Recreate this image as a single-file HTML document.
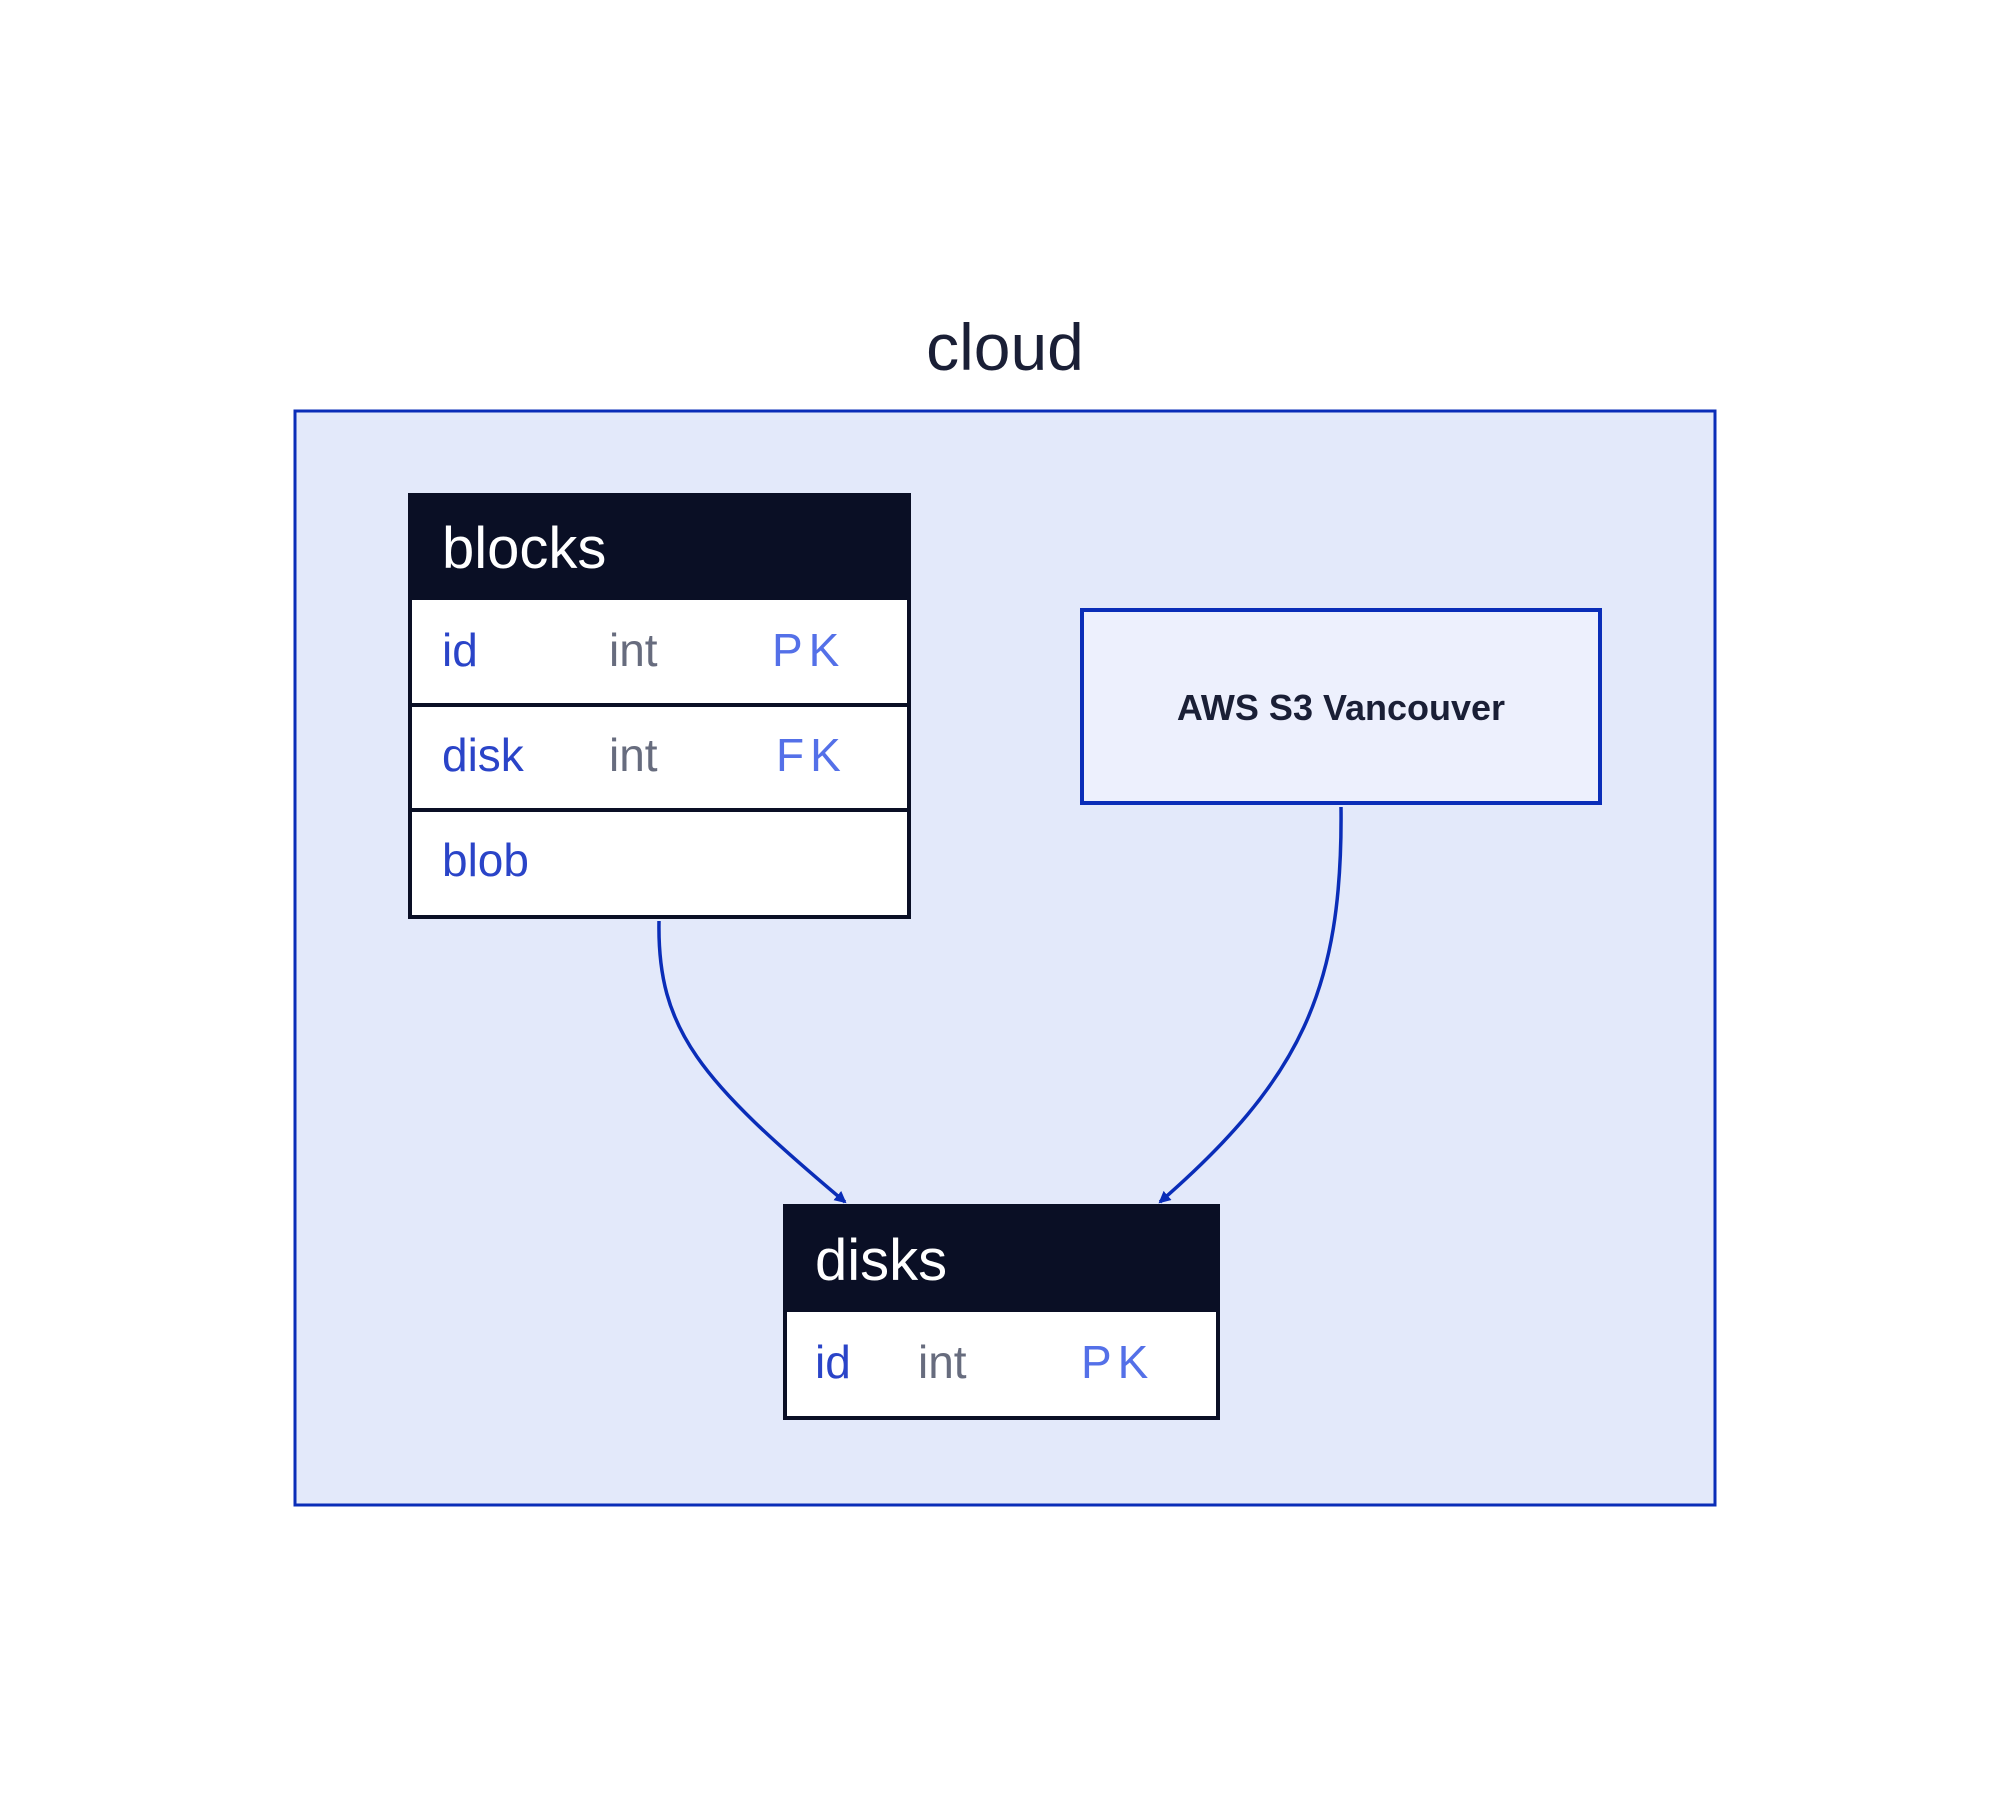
<!DOCTYPE html>
<html><head><meta charset="utf-8"><style>
body{margin:0;background:#fff;}
svg text{font-family:"Liberation Sans",sans-serif;}
</style></head><body>
<svg width="2000" height="1791" viewBox="0 0 2000 1791" xmlns="http://www.w3.org/2000/svg">
<defs>
<marker id="ah" markerWidth="12" markerHeight="12" refX="10" refY="6" orient="auto" markerUnits="userSpaceOnUse" viewBox="0 0 12 12">
<path d="M0,0 L12,6 L0,12 z" fill="#0A2DB8"/>
</marker>
</defs>
<rect width="2000" height="1791" fill="#fff"/>
<text x="1005" y="370" font-size="66" fill="#1a1f36" text-anchor="middle">cloud</text>
<rect x="295" y="411" width="1420" height="1094" fill="#E3E9FA" stroke="#0A2DB8" stroke-width="3"/>
<!-- blocks -->
<rect x="410" y="495" width="499" height="422" fill="#fff" stroke="#0A0F25" stroke-width="4"/>
<rect x="410" y="495" width="499" height="105" fill="#0A0F25"/>
<text x="442" y="568" font-size="58" fill="#fff">blocks</text>
<line x1="410" y1="705" x2="909" y2="705" stroke="#0A0F25" stroke-width="4"/>
<line x1="410" y1="810" x2="909" y2="810" stroke="#0A0F25" stroke-width="4"/>
<g font-size="46">
<text x="442" y="666" fill="#2A44C8">id</text><text x="609" y="666" fill="#676C7E">int</text><text x="772" y="666" fill="#5470E8" letter-spacing="6">PK</text>
<text x="442" y="771" fill="#2A44C8">disk</text><text x="609" y="771" fill="#676C7E">int</text><text x="776" y="771" fill="#5470E8" letter-spacing="6">FK</text>
<text x="442" y="876" fill="#2A44C8">blob</text>
</g>
<!-- AWS -->
<rect x="1082" y="610" width="518" height="193" fill="#EDF0FD" stroke="#0A2DB8" stroke-width="4"/>
<text x="1341" y="720" font-size="36" font-weight="bold" fill="#1a1f36" text-anchor="middle">AWS S3 Vancouver</text>
<!-- disks -->
<rect x="785" y="1206" width="433" height="212" fill="#fff" stroke="#0A0F25" stroke-width="4"/>
<rect x="785" y="1206" width="433" height="106" fill="#0A0F25"/>
<text x="815" y="1280" font-size="58" fill="#fff">disks</text>
<g font-size="46">
<text x="815" y="1378" fill="#2A44C8">id</text><text x="918" y="1378" fill="#676C7E">int</text><text x="1081" y="1378" fill="#5470E8" letter-spacing="6">PK</text>
</g>
<!-- edges -->
<path d="M659,921 C657,1030 700,1080 845,1202" fill="none" stroke="#0A2DB8" stroke-width="3.5" marker-end="url(#ah)"/>
<path d="M1341,807 C1343,990 1300,1080 1160,1202" fill="none" stroke="#0A2DB8" stroke-width="3.5" marker-end="url(#ah)"/>
</svg>
</body></html>
